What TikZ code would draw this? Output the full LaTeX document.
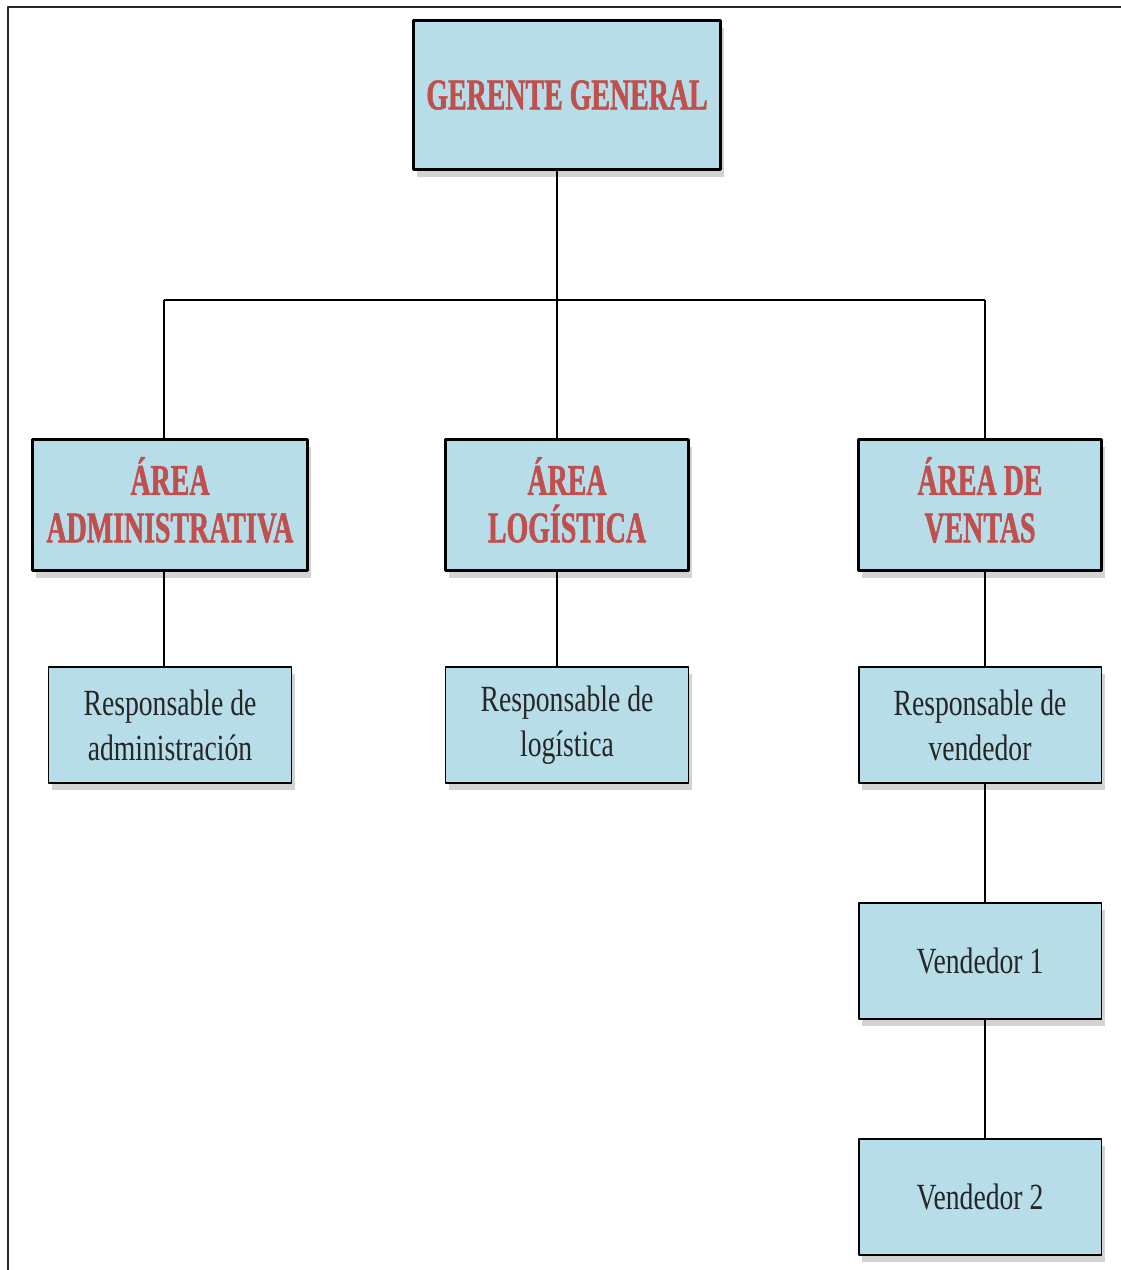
\documentclass[tikz,border=0pt]{standalone}
\usepackage{fontspec}
\usepackage{tikz}
\usetikzlibrary{calc,shadows}
\newfontfamily\headfont[FakeStretch=0.635,FakeBold=1.2]{Liberation Serif Bold}
\newfontfamily\bodyfont[FakeStretch=0.75]{Liberation Serif}
\definecolor{orgfill}{RGB}{183,221,232}
\definecolor{orgred}{RGB}{192,80,77}
\definecolor{orgframe}{RGB}{40,40,40}

\begin{document}
\begin{tikzpicture}[x=0.02cm,y=-0.02cm,line join=round,
    boxbase/.style={rectangle,fill=orgfill,inner sep=0pt,align=center,
      drop shadow={shadow xshift=2pt,shadow yshift=-4pt,opacity=0.35}},
    headbox/.style={boxbase,draw=black,line width=1.7pt,text=orgred,
      font=\headfont\fontsize{25}{27}\selectfont},
    areabox/.style={headbox,minimum width=4.86cm,minimum height=2.62cm,text depth=6pt},
    unitbox/.style={boxbase,draw=black,line width=1.1pt,text=black!85,
      minimum width=4.86cm,minimum height=2.32cm,
      font=\bodyfont\fontsize{21}{25.5}\selectfont},
    link/.style={black,line width=0.8pt}]
  \useasboundingbox (0,0) rectangle (1121,1270);
  % --- outer frame (cut off at right and bottom) ---
  \draw[orgframe,line width=1.3pt] (1121,7) -- (8,7) -- (8,1270);
  % --- top ---
  \node[headbox,minimum width=6.16cm,minimum height=2.98cm] (gg) at (567,95) {GERENTE GENERAL};
  % --- areas ---
  \node[areabox,minimum width=5.52cm] (adm) at (170,505) {ÁREA\\ADMINISTRATIVA};
  \node[areabox] (log) at (567,505) {ÁREA\\LOGÍSTICA};
  \node[areabox] (ven) at (980,505) {ÁREA DE\\VENTAS};
  % --- responsables ---
  \node[unitbox] (radm) at (170,725) {Responsable de\\administración};
  \node[unitbox] (rlog) at (567,725) {Responsable de\\logística};
  \node[unitbox] (rven) at (980,725) {Responsable de\\vendedor};
  % --- vendedores ---
  \node[unitbox] (v1) at (980,961) {Vendedor 1};
  \node[unitbox] (v2) at (980,1197) {Vendedor 2};
  % connectors
  \coordinate (busL) at (164,300);
  \coordinate (busM) at (557,300);
  \coordinate (busR) at (985,300);
  \draw[link] (gg.south -| busM) -- (busM);
  \draw[link] (busL) -- (busR);
  \draw[link] (busL) -- (busL |- adm.north);
  \draw[link] (busM) -- (busM |- log.north);
  \draw[link] (busR) -- (busR |- ven.north);
  \draw[link] (adm.south -| busL) -- (radm.north -| busL);
  \draw[link] (log.south -| busM) -- (rlog.north -| busM);
  \draw[link] (ven.south -| busR) -- (rven.north -| busR);
  \draw[link] (rven.south -| busR) -- (v1.north -| busR);
  \draw[link] (v1.south -| busR) -- (v2.north -| busR);
\end{tikzpicture}
\end{document}
